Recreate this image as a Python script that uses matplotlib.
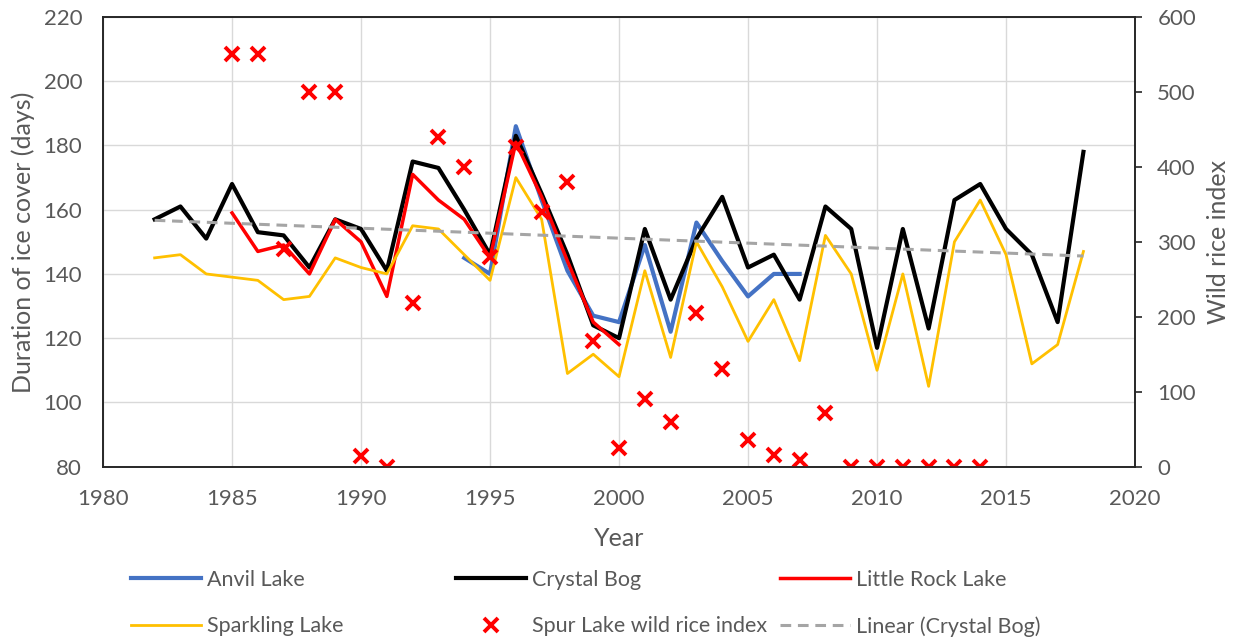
import numpy as np
import matplotlib
matplotlib.use("Agg")
import matplotlib.pyplot as plt

plt.rcParams['font.family'] = ['Lato', 'DejaVu Sans']

# Ice cover duration (days) per lake
years = list(range(1982, 2019))
crystal_bog = [157, 161, 151, 168, 153, 152, 142, 157, 154, 141, 175, 173, 160, 146,
               183, 165, 146, 124, 120, 154, 132, 151, 164, 142, 146, 132, 161, 154,
               117, 154, 123, 163, 168, 154, 146, 125, 178]
sparkling = [145, 146, 140, 139, 138, 132, 133, 145, 142, 140, 155, 154, 146, 138,
             170, 157, 109, 115, 108, 141, 114, 150, 136, 119, 132, 113, 152, 140,
             110, 140, 105, 150, 163, 146, 112, 118, 147]

little_rock_years = list(range(1985, 2001))
little_rock = [159, 147, 149, 140, 157, 150, 133, 171, 163, 157, 145, 181, 164, 144, 125, 118]

anvil_years = list(range(1994, 2008))
anvil = [145, 140, 186, 163, 141, 127, 125, 149, 122, 156, 144, 133, 140, 140]

# Spur Lake wild rice index (secondary axis)
spur_years = list(range(1985, 2015))
spur_index = [550, 550, 290, 500, 500, 14, 0, 219, 440, 400, 280, 427, 340, 380, 167,
              25, 90, 60, 205, 130, 36, 16, 9, 71, 0, 0, 0, 0, 0, 0]

text_col = '#595959'

fig = plt.figure(figsize=(12.34, 6.41), dpi=100)
ax = fig.add_axes([0.0835, 0.272, 0.8363, 0.7015])
ax2 = ax.twinx()

l_anvil, = ax.plot(anvil_years, anvil, color='#4472C4', lw=3, label='Anvil Lake')
l_crystal, = ax.plot(years, crystal_bog, color='black', lw=3, label='Crystal Bog')
l_little, = ax.plot(little_rock_years, little_rock, color='#FF0000', lw=2.5,
                    label='Little Rock Lake')
l_spark, = ax.plot(years, sparkling, color='#FFC000', lw=2, label='Sparkling Lake')

# linear trend of Crystal Bog
coef = np.polyfit(years, crystal_bog, 1)
trend = np.polyval(coef, years)
l_trend, = ax.plot(years, trend, color='#A5A5A5', lw=2.2, ls=(0, (3.5, 2.2)),
                   label='Linear (Crystal Bog)')

l_spur, = ax2.plot(spur_years, spur_index, ls='none', marker='x', color='#FF0000',
                   ms=10, mew=2.8, label='Spur Lake wild rice index')

ax.set_xlim(1980, 2020)
ax.set_ylim(80, 220)
ax.set_xticks(range(1980, 2021, 5))
ax.set_yticks(range(80, 221, 20))
ax2.set_ylim(0, 600)
ax2.set_yticks(range(0, 601, 100))

ax.grid(True, color='#D9D9D9', lw=1)
ax.set_axisbelow(True)

for a in (ax, ax2):
    for s in a.spines.values():
        s.set_color('#262626')
        s.set_linewidth(1.2)
ax.tick_params(axis='x', length=0, labelsize=16, colors=text_col, pad=16)
ax.tick_params(axis='y', length=0, labelsize=16, colors=text_col, pad=15)
ax2.tick_params(axis='y', length=5, width=1.2, direction='out', labelsize=16,
                colors=text_col, pad=11, color='#262626')

ax.set_xlabel('Year', fontsize=18, color=text_col, labelpad=13)
ax.set_ylabel('Duration of ice cover (days)', fontsize=18, color=text_col, labelpad=6)
ax2.set_ylabel('Wild rice index', fontsize=18, color=text_col, labelpad=8)

# legend: three columns placed separately, like the spreadsheet layout
columns = [((l_anvil, l_spark), 131),
           ((l_crystal, l_spur), 456),
           ((l_little, l_trend), 780)]
for hs, xpix in columns:
    fig.legend(hs, [h.get_label() for h in hs], loc='upper left',
               bbox_to_anchor=(xpix / 1234, 1 - 570 / 641), frameon=False,
               fontsize=15.5, handlelength=3.25, handletextpad=0.3,
               labelspacing=1.22, borderpad=0, borderaxespad=0,
               labelcolor=text_col, numpoints=1)

fig.savefig('out.png', dpi=100)
